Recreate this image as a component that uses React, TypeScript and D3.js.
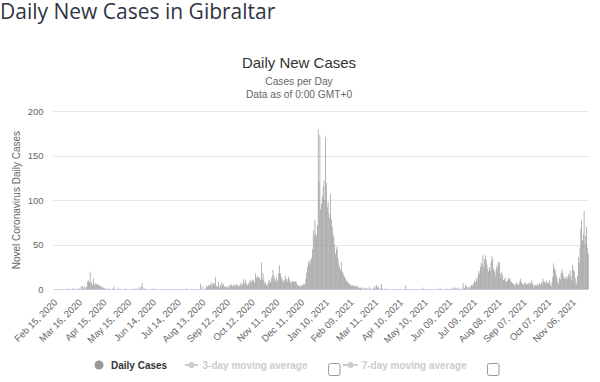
import React from "react";
import * as d3 from "d3";

// Daily new cases, Gibraltar, one value per day from Feb 15, 2020
const feb2020 = [0,0,0,0,0,0,0,0,0,0,0,0,0,0,0];
const mar2020 = [0,0,0,1,0,0,0,0,1,0,0,0,0,1,0,0,1,0,3,0,4,1,3,0,2,3,9,10,8,20,6];
const apr2020 = [8,5,12,4,7,6,5,6,4,5,3,4,2,3,1,2,0,1,0,0,1,0,0,0,0,1,0,3,0,0];
const may2020 = [0,0,2,0,0,0,0,0,0,0,0,1,0,0,0,0,0,0,0,0,0,0,1,0,0,1,0,0,2,0,3];
const jun2020 = [7,2,0,1,0,0,0,0,0,0,0,0,0,0,1,0,0,0,0,0,0,0,0,0,0,0,0,0,0,0];
const jul2020 = [0,0,0,0,0,0,0,0,0,0,0,0,0,0,0,0,0,0,0,0,0,0,0,0,1,0,0,0,0,0,0];
const aug2020 = [0,0,0,0,0,0,0,0,0,0,6,0,3,0,0,0,1,3,4,2,5,4,6,3,8,5,7,6,14,4,3];
const sep2020 = [3,8,2,5,3,8,4,6,3,2,4,1,3,2,5,3,4,6,3,5,4,3,6,4,5,3,4,5,7,4];
const oct2020 = [6,11,5,8,11,6,4,7,5,9,10,8,11,10,9,7,18,13,15,12,14,13,10,30,12,18,10,6,8,5,4];
const nov2020 = [6,9,10,7,12,15,22,16,12,9,14,11,8,18,27,18,14,12,10,8,11,15,10,12,9,14,11,8,6,9];
const dec2020 = [9,9,8,9,9,6,5,4,4,3,3,5,4,6,5,6,12,19,25,31,28,33,30,35,45,66,60,78,63,60,72];
const jan2021 = [179,120,173,90,96,104,115,122,100,171,119,92,98,85,80,107,78,70,62,59,50,40,45,48,35,29,25,22,31,20,19];
const feb2021 = [16,14,12,10,9,8,7,6,5,4,4,5,4,3,4,3,4,3,2,1,2,1,2,1,0,1,2,1];
const mar2021 = [0,1,0,3,0,1,0,0,2,0,4,1,5,2,3,0,1,0,6,1,0,0,0,1,0,0,0,0,0,0,0];
const apr2021 = [0,0,0,0,0,0,0,0,0,0,0,0,0,0,0,0,4,0,0,0,0,0,0,0,0,0,0,0,0,0];
const may2021 = [0,0,0,0,0,0,0,2,0,0,0,0,0,0,0,0,0,0,0,0,0,0,0,0,0,0,0,0,2,0,0];
const jun2021 = [0,0,0,0,0,1,0,0,0,0,1,0,2,0,1,0,2,1,0,2,0,0,1,0,0,7,2,1,5,3];
const jul2021 = [1,3,0,2,3,5,4,5,7,10,8,12,9,15,21,18,25,30,28,39,25,34,38,33,28,23,20,25,21,30,37];
const aug2021 = [34,23,20,15,22,27,24,31,30,18,13,19,16,10,11,13,9,8,10,13,11,12,9,8,7,6,5,4,6,8,5];
const sep2021 = [5,7,9,12,8,6,5,7,6,8,5,6,7,5,8,6,10,7,5,3,4,5,4,5,6,4,7,5,8,6];
const oct2021 = [12,9,8,7,10,8,6,7,10,5,3,8,14,29,24,21,16,13,9,6,13,11,18,22,19,15,12,13,10,15,12];
const nov2021 = [17,14,21,16,10,27,22,20,13,9,6,15,36,30,47,68,77,55,62,88,51,60,70,47,40];

const dailyCases: number[] = [
  ...feb2020, ...mar2020, ...apr2020, ...may2020, ...jun2020, ...jul2020,
  ...aug2020, ...sep2020, ...oct2020, ...nov2020, ...dec2020,
  ...jan2021, ...feb2021, ...mar2021, ...apr2021, ...may2021, ...jun2021,
  ...jul2021, ...aug2021, ...sep2021, ...oct2021, ...nov2021,
];

const tickLabels = [
  "Feb 15, 2020", "Mar 16, 2020", "Apr 15, 2020", "May 15, 2020", "Jun 14, 2020",
  "Jul 14, 2020", "Aug 13, 2020", "Sep 12, 2020", "Oct 12, 2020", "Nov 11, 2020",
  "Dec 11, 2020", "Jan 10, 2021", "Feb 09, 2021", "Mar 11, 2021", "Apr 10, 2021",
  "May 10, 2021", "Jun 09, 2021", "Jul 09, 2021", "Aug 08, 2021", "Sep 07, 2021",
  "Oct 07, 2021", "Nov 06, 2021",
];
const tickEvery = 30;
const yTicks = [0, 50, 100, 150, 200];

const W = 600;
const H = 382;
const plotLeft = 53.6;
const plotRight = 588.6;
const plotTop = 111;
const plotBottom = 289.3;
const chartFont = "'Liberation Sans', Arial, sans-serif";

export default function App() {
  const x = d3
    .scaleBand<number>()
    .domain(dailyCases.map((_, i) => i))
    .range([plotLeft, plotRight])
    .paddingInner(0.12);
  const y = d3.scaleLinear().domain([0, 200]).range([plotBottom, plotTop]);
  const bw = x.bandwidth();

  return (
    <svg
      width={W}
      height={H}
      style={{ position: "absolute", left: 0, top: 0, background: "#fff" }}
    >
      <text
        x={0}
        y={18.5}
        fontFamily="'Open Sans', sans-serif"
        fontSize={21}
        fill="#2f3542"
      >
        Daily New Cases in Gibraltar
      </text>

      <g fontFamily={chartFont} textAnchor="middle">
        <text x={299} y={67.7} fontSize={15} fill="#333">
          Daily New Cases
        </text>
        <text x={299} y={85.3} fontSize={10.2} fill="#666">
          Cases per Day
        </text>
        <text x={299} y={98.3} fontSize={10.2} fill="#666">
          Data as of 0:00 GMT+0
        </text>
      </g>

      {/* grid */}
      <g>
        {yTicks.map((t) => (
          <line
            key={t}
            x1={plotLeft}
            x2={plotRight}
            y1={Math.round(y(t)) + 0.5}
            y2={Math.round(y(t)) + 0.5}
            stroke={t === 0 ? "#ccd6eb" : "#e6e6e6"}
            strokeWidth={1}
          />
        ))}
      </g>

      {/* y labels */}
      <g fontFamily={chartFont} fontSize={9.5} fill="#666" textAnchor="end">
        {yTicks.map((t) => (
          <text key={t} x={43.5} y={y(t) + 3.5}>
            {t}
          </text>
        ))}
      </g>
      <text
        transform={`translate(19.5,${(plotTop + plotBottom) / 2}) rotate(-90)`}
        textAnchor="middle"
        fontFamily={chartFont}
        fontSize={10}
        fill="#666"
      >
        Novel Coronavirus Daily Cases
      </text>

      {/* bars */}
      <g fill="#999">
        {dailyCases.map((v, i) =>
          v > 0 ? (
            <rect
              key={i}
              x={x(i)}
              y={y(v)}
              width={bw}
              height={plotBottom - y(v)}
            />
          ) : null
        )}
      </g>

      {/* x labels */}
      <g fontFamily={chartFont} fontSize={9.5} fill="#666" textAnchor="end">
        {tickLabels.map((lab, k) => {
          const cx = (x(k * tickEvery) as number) + bw / 2;
          return (
            <text key={lab} transform={`translate(${cx + 4},303) rotate(-45)`}>
              {lab}
            </text>
          );
        })}
      </g>

      {/* legend */}
      <g fontFamily={chartFont} fontSize={10} fontWeight="bold">
        <circle cx={99} cy={365} r={4.5} fill="#999" />
        <text x={111} y={368.5} fill="#333">
          Daily Cases
        </text>

        <line x1={185} x2={198} y1={365} y2={365} stroke="#ccc" strokeWidth={2} />
        <circle cx={191.5} cy={365} r={3} fill="#ccc" />
        <text x={202.5} y={368.5} fill="#ccc">
          3-day moving average
        </text>
        <rect x={328.5} y={363.5} width={11.5} height={12} rx={2} fill="#fff" stroke="#999" />

        <line x1={343} x2={358} y1={365} y2={365} stroke="#ccc" strokeWidth={2} />
        <circle cx={350.5} cy={365} r={3} fill="#ccc" />
        <text x={361.7} y={368.5} fill="#ccc">
          7-day moving average
        </text>
        <rect x={487.5} y={363.5} width={11.5} height={12} rx={2} fill="#fff" stroke="#999" />
      </g>
    </svg>
  );
}
